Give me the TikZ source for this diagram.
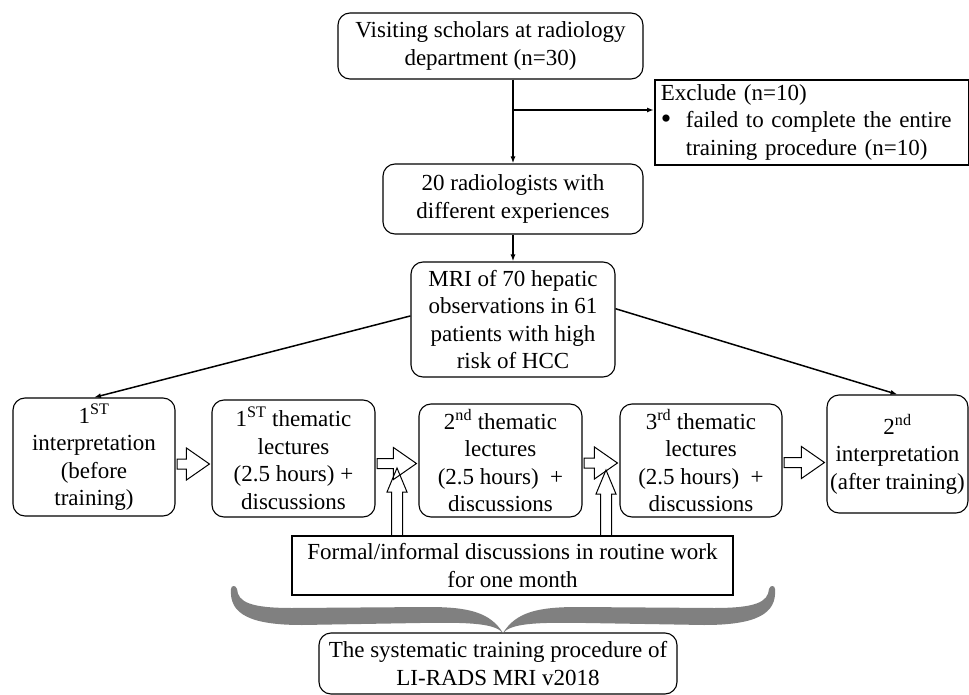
\documentclass[tikz,border=0pt]{standalone}
\usepackage{fontspec}
\setmainfont{Liberation Serif}
\usetikzlibrary{arrows.meta,calc}
\definecolor{braceGray}{RGB}{128,128,128}
\tikzset{
  txt/.style={font=\fontsize{23}{27.5}\selectfont},
  rbox/.style={txt, draw, rounded corners=12pt, line width=1.1pt, align=center, inner sep=0pt},
  sbox/.style={txt, draw, line width=1.4pt, align=center, inner sep=0pt},
  conn/.style={line width=1.5pt, -{Latex[length=7pt,width=5pt]}},
  blockarr/.style={draw, line width=1pt, line join=miter},
  bracefill/.style={fill=braceGray, draw=none},
}
\newcommand\harr[3]{\draw[blockarr] let \p1=(#1.east), \p2=(#2.west) in
  (\x1+1.5pt,-#3pt+5pt) -- (\x2-25pt,-#3pt+5pt) -- (\x2-25pt,-#3pt+16pt) -- (\x2-2pt,-#3pt)
  -- (\x2-25pt,-#3pt-16pt) -- (\x2-25pt,-#3pt-5pt) -- (\x1+1.5pt,-#3pt-5pt) -- cycle;}
\newcommand\varr[3]{\draw[blockarr] let \p1=(#1.north) in
  (#2pt-5.5pt,\y1) -- (#2pt-5.5pt,-#3pt-24pt) -- (#2pt-10pt,-#3pt-24pt) -- (#2pt,-#3pt)
  -- (#2pt+10pt,-#3pt-24pt) -- (#2pt+5.5pt,-#3pt-24pt) -- (#2pt+5.5pt,\y1);}
\begin{document}
\begin{tikzpicture}[x=1pt,y=-1pt]
\useasboundingbox (0,0) rectangle (969,695);
% boxes
\node[rbox, minimum width=305pt, minimum height=66pt] (top) at (490.5,46) {Visiting scholars at radiology\\department (n=30)};
\node[sbox, anchor=north west, minimum width=314pt, minimum height=85pt, text width=302pt, inner xsep=6pt, align=left, line width=1.8pt] (excl) at (654,79)
  {Exclude (n=10)\\\makebox[25pt][l]{\raisebox{-1pt}{\fontsize{30}{30}\selectfont\textbullet}}failed to complete the entire\\\hspace*{25pt}training procedure (n=10)};
\node[rbox, minimum width=260pt, minimum height=70pt] (rad) at (513,199) {20 radiologists with\\different experiences};
\node[rbox, minimum width=204pt, minimum height=115pt] (mri) at (513,319.5) {MRI of 70 hepatic\\observations in 61\\patients with high\\risk of HCC};
\node[rbox, minimum width=162pt, minimum height=118pt] (b1) at (94,457) {1\textsuperscript{ST}\\interpretation\\(before\\training)};
\node[rbox, minimum width=163pt, minimum height=117pt] (b2) at (293.5,458.5) {1\textsuperscript{ST} thematic\\lectures\\(2.5 hours) +\\discussions};
\node[rbox, minimum width=163pt, minimum height=113pt] (b3) at (500.5,460.5) {2\textsuperscript{nd} thematic\\lectures\\(2.5 hours)~~+\\discussions};
\node[rbox, minimum width=162pt, minimum height=113pt] (b4) at (701,460.5) {3\textsuperscript{rd} thematic\\lectures\\(2.5 hours)~~+\\discussions};
\node[rbox, minimum width=141pt, minimum height=118pt] (b5) at (897.5,454) {2\textsuperscript{nd}\\interpretation\\(after training)};
\node[sbox, minimum width=441pt, minimum height=59pt, line width=1.3pt] (formal) at (512.5,565.5) {Formal/informal discussions in routine work\\for one month};
\node[rbox, minimum width=358pt, minimum height=61pt] (proc) at (498,663.5) {The systematic training procedure of\\LI-RADS MRI v2018};
% thin connectors
\coordinate (br) at (513,110);
\draw[conn] (top.south -| rad.north) -- (rad.north);
\draw[conn] (br) -- (br -| excl.west);
\draw[conn] (rad.south) -- (mri.north);
\draw[conn] (mri.178) -- (b1.north);
\draw[conn] (mri.6) -- (b5.north);
% block arrows
\harr{b1}{b2}{464}
\harr{b2}{b3}{463.5}
\harr{b3}{b4}{463}
\harr{b4}{b5}{462.5}
\varr{formal}{397}{468}
\varr{formal}{606}{470}
% brace
\fill[bracefill] (503,633) .. controls (490,612) and (468,607) .. (428,607) -- (292,608)
  .. controls (250,608) and (238,602) .. (237,589)
  .. controls (236,585) and (231,585) .. (231,589)
  .. controls (229,614) and (250,625) .. (302,625) -- (420,623)
  .. controls (474,622) and (495,624) .. (503,633) -- cycle;
\begin{scope}[xshift=1006pt, xscale=-1]
\fill[bracefill] (503,633) .. controls (490,612) and (468,607) .. (428,607) -- (292,608)
  .. controls (250,608) and (238,602) .. (237,589)
  .. controls (236,585) and (231,585) .. (231,589)
  .. controls (229,614) and (250,625) .. (302,625) -- (420,623)
  .. controls (474,622) and (495,624) .. (503,633) -- cycle;
\end{scope}
\end{tikzpicture}
\end{document}
